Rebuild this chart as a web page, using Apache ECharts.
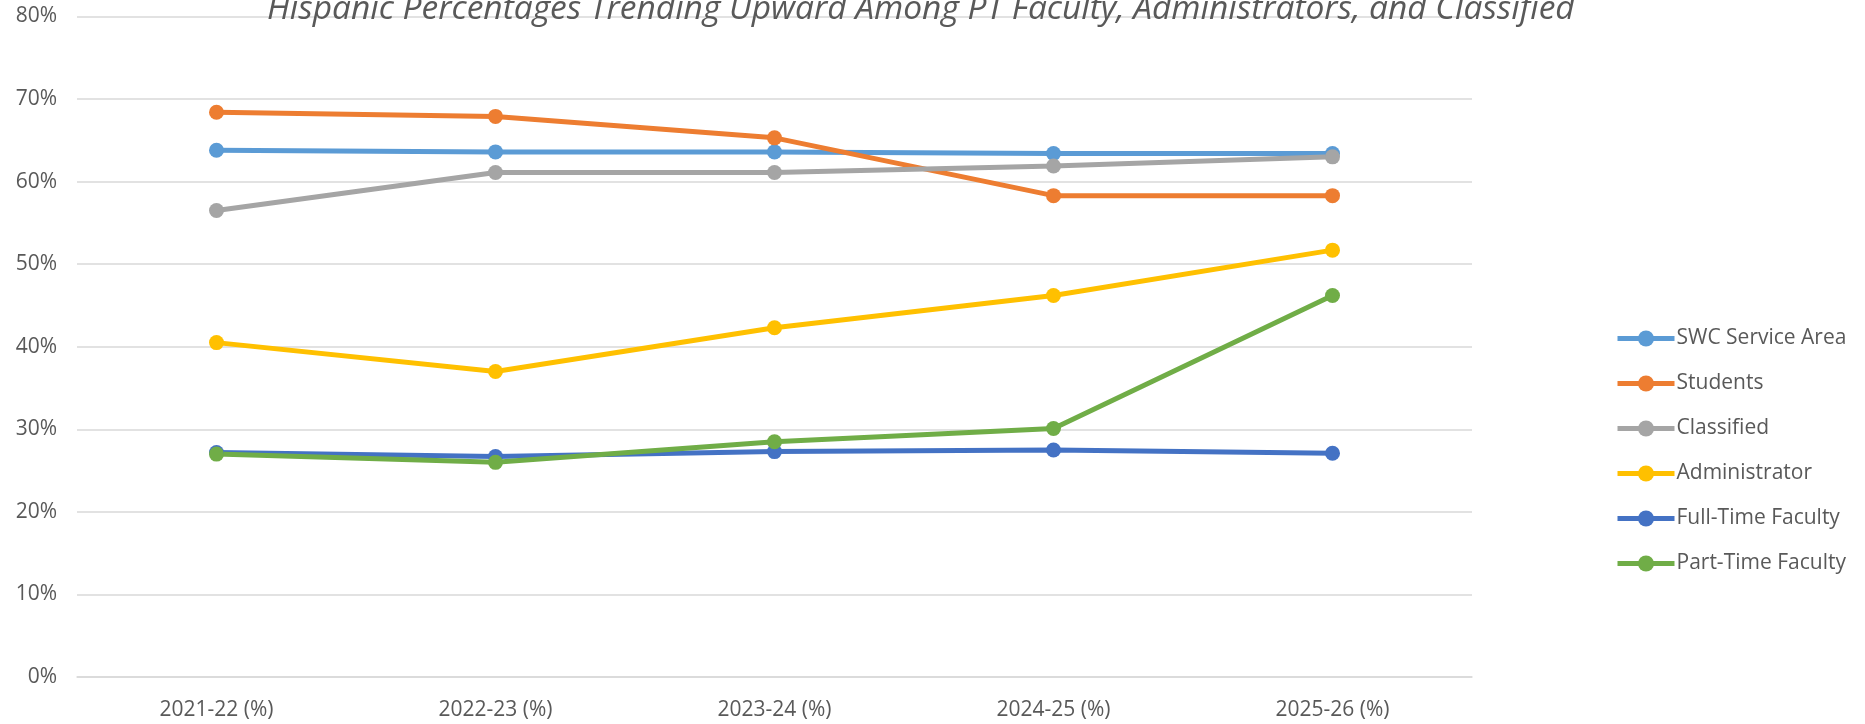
<!DOCTYPE html>
<html>
<head>
<meta charset="utf-8">
<script src="https://cdn.jsdelivr.net/npm/echarts@6/dist/echarts.min.js"></script>
<style>
  html, body { margin: 0; padding: 0; background: #fff; }
  #chart { width: 1865px; height: 724px; }
</style>
</head>
<body>
<div id="chart"></div>
<script>
// academic years on the x axis
var years = ['2021-22 (%)', '2022-23 (%)', '2023-24 (%)', '2024-25 (%)', '2025-26 (%)'];

// Hispanic share per group
var swcArea     = [63.8, 63.6, 63.6, 63.4, 63.4];
var students    = [68.4, 67.9, 65.3, 58.3, 58.3];
var classified  = [56.5, 61.1, 61.1, 61.9, 63.0];
var admin       = [40.5, 37.0, 42.3, 46.2, 51.7];
var fullTime    = [27.2, 26.7, 27.3, 27.5, 27.1];
var partTime    = [27.0, 26.0, 28.5, 30.1, 46.2];

var seriesNames = ['SWC Service Area', 'Students', 'Classified', 'Administrator', 'Full-Time Faculty', 'Part-Time Faculty'];
var seriesColors = ['#5B9BD5', '#ED7D31', '#A5A5A5', '#FFC000', '#4472C4', '#70AD47'];
var seriesData = [swcArea, students, classified, admin, fullTime, partTime];

var chart = echarts.init(document.getElementById('chart'));

var series = seriesNames.map(function (name, i) {
  return {
    name: name,
    type: 'line',
    data: seriesData[i],
    symbol: 'circle',
    symbolSize: 15,
    lineStyle: { width: 5, color: seriesColors[i] },
    itemStyle: { color: seriesColors[i] },
    emphasis: { disabled: true },
    animation: false
  };
});

var option = {
  backgroundColor: '#fff',
  title: {
    text: 'Hispanic Percentages Trending Upward Among PT Faculty, Administrators, and Classified',
    left: 262,
    top: -13,
    textStyle: {
      fontFamily: 'Open Sans',
      fontStyle: 'italic',
      fontWeight: 'normal',
      fontSize: 33.5,
      color: '#595959'
    }
  },
  legend: {
    orient: 'vertical',
    left: 1610,
    top: 323,
    itemWidth: 57,
    itemHeight: 20,
    itemGap: 24,
    data: seriesNames,
    lineStyle: { width: 5 },
    textStyle: { fontFamily: 'Open Sans', fontSize: 21, color: '#595959', padding: [0, 0, 0, -3] }
  },
  grid: {
    left: 77,
    right: 1865 - 1472,
    top: 16.5,
    bottom: 724 - 677
  },
  xAxis: {
    type: 'category',
    data: years,
    boundaryGap: true,
    axisLine: { lineStyle: { color: '#d9d9d9', width: 1.5 } },
    axisTick: { show: false },
    axisLabel: { fontFamily: 'Open Sans', fontSize: 21, color: '#595959', margin: 23 }
  },
  yAxis: {
    type: 'value',
    min: 0,
    max: 80,
    interval: 10,
    axisLine: { show: false },
    axisTick: { show: false },
    splitLine: { lineStyle: { color: '#d9d9d9', width: 1.5 } },
    axisLabel: { formatter: '{value}%', fontFamily: 'Open Sans', fontSize: 21, color: '#595959', margin: 20 }
  },
  series: series
};

chart.setOption(option);
</script>
</body>
</html>
